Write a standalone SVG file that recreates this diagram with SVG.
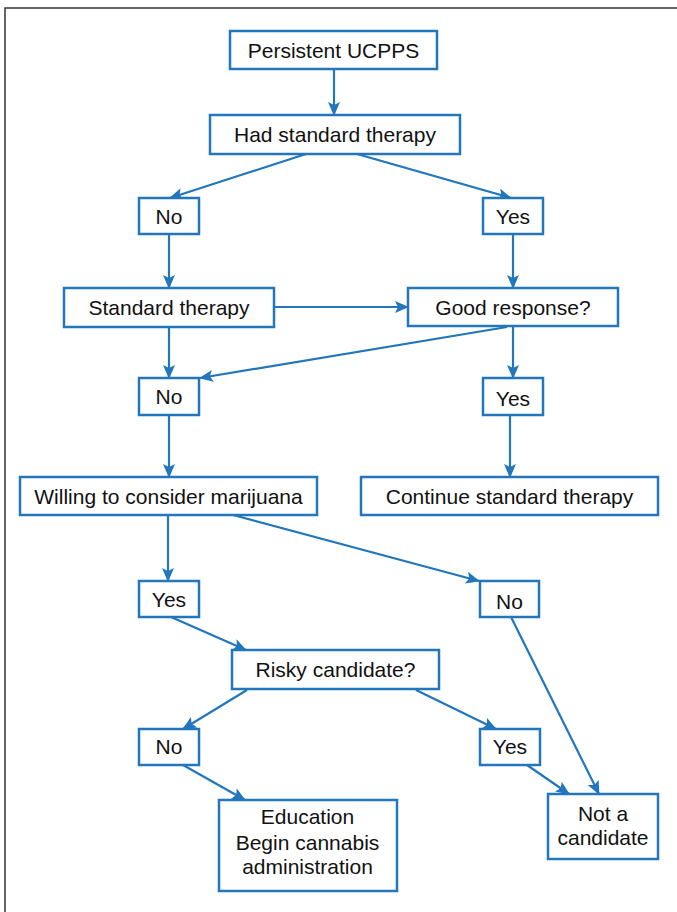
<svg xmlns="http://www.w3.org/2000/svg" width="677" height="912" viewBox="0 0 677 912">
<defs>
<style>
.box{fill:#fff;stroke:#2176bc;stroke-width:2.5}
.t{font-family:"Liberation Sans",Arial,sans-serif;font-size:21px;fill:#111;text-anchor:middle}
.c{fill:none;stroke:#2176bc;stroke-width:2.2;marker-end:url(#ah)}
</style>
<marker id="ah" viewBox="0 0 14 12" refX="13" refY="6" markerWidth="14" markerHeight="12" markerUnits="userSpaceOnUse" orient="auto">
<path d="M0,0 L14,6 L0,12 L3,6 z" fill="#2176bc"/>
</marker>
</defs>
<rect width="677" height="912" fill="#fff"/>
<path d="M5,912 V8 H677" fill="none" stroke="#333" stroke-width="1.5"/>
<g id="connectors">
<path class="c" d="M334,69 V115"/>
<path class="c" d="M306,154 L170,198"/>
<path class="c" d="M357,154 L511,198"/>
<path class="c" d="M169,234 V288"/>
<path class="c" d="M513,234 V288"/>
<path class="c" d="M274,307 H408"/>
<path class="c" d="M169,327 V378"/>
<path class="c" d="M507,327 L200,378"/>
<path class="c" d="M513,327 V378"/>
<path class="c" d="M169,415 V477"/>
<path class="c" d="M510,415 V477"/>
<path class="c" d="M168,515 V581"/>
<path class="c" d="M233,515 L479,581"/>
<path class="c" d="M171,617 L246,650"/>
<path class="c" d="M511,617 L599,794"/>
<path class="c" d="M247,690 L183,729"/>
<path class="c" d="M416,690 L496,729"/>
<path class="c" d="M183,765 L245,800"/>
<path class="c" d="M527,765 L569,794"/>
</g>
<g id="n1"><rect class="box" x="230" y="31" width="207" height="38"/><text class="t" x="333.5" y="57.5">Persistent UCPPS</text></g>
<g id="n2"><rect class="box" x="210" y="115" width="250" height="39"/><text class="t" x="335" y="142">Had standard therapy</text></g>
<g id="n3"><rect class="box" x="139" y="198" width="60" height="36"/><text class="t" x="169" y="223.5">No</text></g>
<g id="n4"><rect class="box" x="483" y="198" width="60" height="36"/><text class="t" x="513" y="223.5">Yes</text></g>
<g id="n5"><rect class="box" x="64" y="288" width="210" height="39"/><text class="t" x="169" y="315">Standard therapy</text></g>
<g id="n6"><rect class="box" x="408" y="288" width="210" height="38"/><text class="t" x="513" y="315">Good response?</text></g>
<g id="n7"><rect class="box" x="139" y="378" width="60" height="37"/><text class="t" x="169" y="404">No</text></g>
<g id="n8"><rect class="box" x="483" y="378" width="60" height="37"/><text class="t" x="513" y="406">Yes</text></g>
<g id="n9"><rect class="box" x="20" y="477" width="297" height="38"/><text class="t" x="168.5" y="504">Willing to consider marijuana</text></g>
<g id="n10"><rect class="box" x="361" y="477" width="297" height="38"/><text class="t" x="509.5" y="504">Continue standard therapy</text></g>
<g id="n11"><rect class="box" x="139" y="581" width="60" height="36"/><text class="t" x="169" y="607">Yes</text></g>
<g id="n12"><rect class="box" x="480" y="581" width="59" height="36"/><text class="t" x="509.5" y="609">No</text></g>
<g id="n13"><rect class="box" x="232" y="650" width="207" height="39"/><text class="t" x="335.5" y="677">Risky candidate?</text></g>
<g id="n14"><rect class="box" x="139" y="729" width="60" height="36"/><text class="t" x="169" y="754">No</text></g>
<g id="n15"><rect class="box" x="480" y="729" width="60" height="36"/><text class="t" x="510" y="754">Yes</text></g>
<g id="n16"><rect class="box" x="219" y="800" width="178" height="91"/><text class="t" x="307.5" y="824">Education</text><text class="t" x="307.5" y="850">Begin cannabis</text><text class="t" x="307.5" y="874">administration</text></g>
<g id="n17"><rect class="box" x="548" y="794" width="110" height="65"/><text class="t" x="603" y="821">Not a</text><text class="t" x="603" y="845">candidate</text></g>
</svg>
